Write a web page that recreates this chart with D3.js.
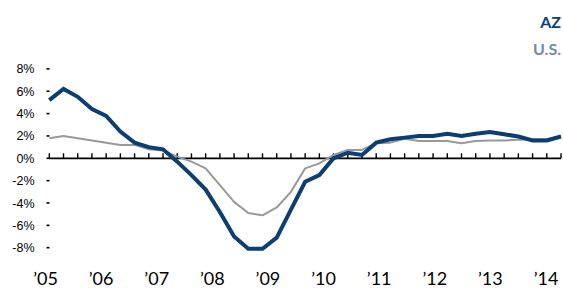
<!DOCTYPE html>
<html>
<head>
<meta charset="utf-8">
<script src="https://cdn.jsdelivr.net/npm/d3@7"></script>
<style>
  html, body { margin: 0; padding: 0; background: #fff; }
  svg { display: block; }
</style>
</head>
<body>
<svg id="chart" width="563" height="289"></svg>
<script>
// Quarterly, 2005Q1 .. 2014Q1
const quarters = d3.range(37).map(i => (2005 + Math.floor(i / 4)) + "Q" + (i % 4 + 1));
const azValues = [5.2, 6.2, 5.5, 4.4, 3.8, 2.4, 1.4, 1.0, 0.8,
                  -0.3, -1.5, -2.8, -4.8, -7.0, -8.1, -8.1, -7.1, -4.6, -2.1, -1.5,
                  0.0, 0.5, 0.3, 1.4, 1.7, 1.85, 2.0, 2.0, 2.2, 2.0, 2.2, 2.35, 2.15, 1.95, 1.6, 1.6, 1.95];
const usValues = [1.8, 2.0, 1.8, 1.6, 1.4, 1.2, 1.2, 0.8, 0.7,
                  0.15, -0.3, -0.9, -2.4, -3.9, -4.9, -5.1, -4.4, -3.0, -0.9, -0.45,
                  0.3, 0.75, 0.75, 1.35, 1.4, 1.75, 1.55, 1.55, 1.55, 1.35, 1.55, 1.6, 1.6, 1.65, 1.7, 1.7, 2.0];
const yTicks = [-8, -6, -4, -2, 0, 2, 4, 6, 8];
const yearLabels = ["\u201905", "\u201906", "\u201907", "\u201908", "\u201909", "\u201910", "\u201911", "\u201912", "\u201913", "\u201914"];
const seriesNames = ["AZ", "U.S."];

const svg = d3.select("#chart");

const x = d3.scaleLinear().domain([0, quarters.length - 1]).range([49.3, 561]);
const y = d3.scaleLinear().domain([-8, 8]).range([247.7, 68.9]);
const xYear = d3.scaleLinear().domain([0, yearLabels.length - 1]).range([45.5, 546]);

// Y tick labels and small tick dashes
const yAxis = svg.append("g");
yTicks.forEach(t => {
  yAxis.append("text")
    .attr("x", 34.5)
    .attr("y", y(t))
    .attr("dy", "0.36em")
    .attr("text-anchor", "end")
    .attr("font-family", "'Liberation Sans', Arial, sans-serif")
    .attr("font-size", 12.5)
    .attr("fill", "#000")
    .text(t + "%");
  yAxis.append("line")
    .attr("x1", 46.5).attr("x2", 49.5)
    .attr("y1", y(t)).attr("y2", y(t))
    .attr("stroke", "#000").attr("stroke-width", 1.6);
});

// X axis (zero line) with quarterly ticks pointing upward
const xAxis = svg.append("g");
xAxis.append("line")
  .attr("x1", x(0)).attr("x2", x(quarters.length - 1))
  .attr("y1", y(0)).attr("y2", y(0))
  .attr("stroke", "#000").attr("stroke-width", 1.8);
quarters.forEach((q, i) => {
  xAxis.append("line")
    .attr("x1", x(i)).attr("x2", x(i))
    .attr("y1", y(0)).attr("y2", y(0) - 5)
    .attr("stroke", "#000").attr("stroke-width", 1.4);
});

// Year labels
yearLabels.forEach((lab, i) => {
  svg.append("text")
    .attr("x", xYear(i))
    .attr("y", 285)
    .attr("text-anchor", "middle")
    .attr("font-family", "Lato, 'Open Sans', sans-serif")
    .attr("font-size", 18)
    .attr("fill", "#000")
    .text(lab);
});

const line = d3.line().x((d, i) => x(i)).y(d => y(d));

svg.append("path")
  .datum(usValues)
  .attr("d", line)
  .attr("fill", "none")
  .attr("stroke", "#999999")
  .attr("stroke-width", 2)
  .attr("stroke-linejoin", "round");

svg.append("path")
  .datum(azValues)
  .attr("d", line)
  .attr("fill", "none")
  .attr("stroke", "#0B3F73")
  .attr("stroke-width", 4)
  .attr("stroke-linejoin", "miter");

// Legend
svg.append("text")
  .attr("x", 561).attr("y", 28)
  .attr("text-anchor", "end")
  .attr("font-family", "Lato, 'Open Sans', sans-serif")
  .attr("font-weight", "bold")
  .attr("font-size", 16)
  .attr("fill", "#0B3F73")
  .text(seriesNames[0]);
svg.append("text")
  .attr("x", 561).attr("y", 55)
  .attr("text-anchor", "end")
  .attr("font-family", "Lato, 'Open Sans', sans-serif")
  .attr("font-weight", "bold")
  .attr("font-size", 16)
  .attr("fill", "#7189B3")
  .text(seriesNames[1]);
</script>
</body>
</html>
